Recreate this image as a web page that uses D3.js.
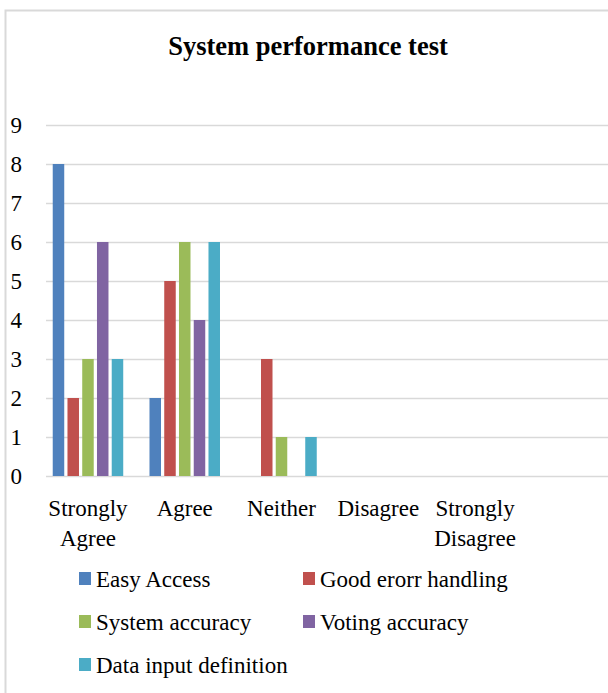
<!DOCTYPE html>
<html>
<head>
<meta charset="utf-8">
<script src="https://cdn.jsdelivr.net/npm/d3@7"></script>
<style>
  body { margin: 0; background: #fff; }
  svg { display: block; font-family: "Liberation Serif", "Times New Roman", serif; }
</style>
</head>
<body>
<div id="chart"></div>
<script>
// data
const categories = ["Strongly Agree", "Agree", "Neither", "Disagree", "Strongly Disagree"];
const seriesNames = ["Easy Access", "Good erorr handling", "System accuracy", "Voting accuracy", "Data input definition"];
const easyAccess = [8, 2, 0, 0, 0];
const goodErrorHandling = [2, 5, 3, 0, 0];
const systemAccuracy = [3, 6, 1, 0, 0];
const votingAccuracy = [6, 4, 0, 0, 0];
const dataInputDefinition = [3, 6, 1, 0, 0];
const yTicks = [0, 1, 2, 3, 4, 5, 6, 7, 8, 9];
const colors = ["#4F81BD", "#C0504D", "#9BBB59", "#8064A2", "#4BACC6"];

const values = [easyAccess, goodErrorHandling, systemAccuracy, votingAccuracy, dataInputDefinition];

const W = 608, H = 693;
const svg = d3.select("#chart").append("svg")
    .attr("width", W)
    .attr("height", H);

// outer chart border (cut off on right and bottom)
svg.append("path")
    .attr("d", "M5.5,700 V10.5 H620")
    .attr("fill", "none")
    .attr("stroke", "#d9d9d9")
    .attr("stroke-width", 2);

// title
svg.append("text")
    .attr("x", 308)
    .attr("y", 55)
    .attr("text-anchor", "middle")
    .attr("font-weight", "bold")
    .attr("font-size", 26.5)
    .text("System performance test");

// scales
const gridLeft = 46, gridRight = 608;
const y = d3.scaleLinear().domain([0, 9]).range([476, 125]);
const x = d3.scaleBand().domain(categories).range([39.6, 523.4]);
const inner = d3.scaleBand()
    .domain(seriesNames)
    .range([0, 70.5])
    .paddingInner(0.22)
    .paddingOuter(0);

// y axis + gridlines
const yAxis = svg.append("g")
    .attr("transform", "translate(" + gridLeft + ",0)")
    .call(d3.axisLeft(y).tickValues(yTicks).tickSize(-(gridRight - gridLeft)).tickPadding(24));
yAxis.select(".domain").remove();
yAxis.selectAll(".tick line")
    .attr("stroke", "#d9d9d9")
    .attr("stroke-width", 1.6);
yAxis.selectAll(".tick text")
    .attr("font-size", 23)
    .attr("font-family", "Liberation Serif")
    .attr("fill", "#000")
    .attr("dy", "0.34em");

// bars
const groups = svg.append("g")
    .selectAll("g")
    .data(seriesNames)
    .enter()
    .append("g")
    .attr("fill", function (d, i) { return colors[i]; });

groups.selectAll("rect")
    .data(function (s, i) {
        return categories.map(function (c, j) { return {cat: c, series: s, v: values[i][j]}; });
    })
    .enter()
    .append("rect")
    .attr("x", function (d) { return x(d.cat) + x.bandwidth() / 2 - 35.25 + inner(d.series); })
    .attr("y", function (d) { return y(d.v); })
    .attr("width", inner.bandwidth())
    .attr("height", function (d) { return y(0) - y(d.v); });

// x axis labels
const xAxis = svg.append("g")
    .attr("transform", "translate(0," + y(0) + ")")
    .call(d3.axisBottom(x).tickSize(0).tickPadding(0));
xAxis.select(".domain").remove();
xAxis.selectAll(".tick text")
    .attr("font-size", 23)
    .attr("font-family", "Liberation Serif")
    .attr("fill", "#000")
    .attr("y", 40)
    .attr("dy", null)
    .each(function (d) {
        const t = d3.select(this);
        const words = d.split(" ");
        t.text(null);
        if (words.length > 1) {
            t.append("tspan").attr("x", 0).attr("y", 40).text(words[0]);
            t.append("tspan").attr("x", 0).attr("y", 70).text(words.slice(1).join(" "));
        } else {
            t.append("tspan").attr("x", 0).attr("y", 40).text(d);
        }
    });

// legend
const legendPos = [[79, 587], [303, 587], [79, 630], [303, 630], [79, 673]];
const legend = svg.append("g")
    .selectAll("g")
    .data(seriesNames)
    .enter()
    .append("g")
    .attr("transform", function (d, i) { return "translate(" + legendPos[i][0] + "," + legendPos[i][1] + ")"; });
legend.append("rect")
    .attr("x", 0)
    .attr("y", -15)
    .attr("width", 12)
    .attr("height", 13)
    .attr("fill", function (d, i) { return colors[i]; });
legend.append("text")
    .attr("x", 17)
    .attr("y", 0)
    .attr("font-size", 23)
    .text(function (d) { return d; });
</script>
</body>
</html>
